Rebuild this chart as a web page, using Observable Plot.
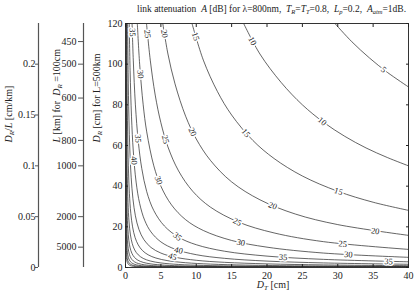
<!DOCTYPE html>
<html><head><meta charset="utf-8">
<script src="https://cdn.jsdelivr.net/npm/d3@7"></script>
<script src="https://cdn.jsdelivr.net/npm/@observablehq/plot@0.6"></script>
<style>
body{margin:0;background:#fff;width:415px;height:296px;overflow:hidden}
#title{font-family:"Liberation Serif",serif;font-size:9.5px;height:18px;line-height:18px;padding-left:137px;white-space:nowrap;color:#222}
#title sub{font-size:6.5px;vertical-align:-2px;line-height:0}
svg{display:block}
svg text{font-family:"Liberation Serif",serif}
</style></head><body>
<div id="title">link attenuation&nbsp; <i>A</i> [dB] for λ=800nm,&nbsp; <i>T</i><sub><i>R</i></sub>=<i>T</i><sub><i>T</i></sub>=0.8,&nbsp; <i>L</i><sub><i>p</i></sub>=0.2,&nbsp; <i>A</i><sub><i>atm</i></sub>=1dB.</div>
<div id="chart"></div>
<script>
// contour levels A [dB] and points (D_T [cm], D_R [cm])
const levels = [5,10,15,20,25,30,35,40,45,50,55,60,65,70,75,80];
const dt05=[29.6,32,34.5,37,40], dr05=[120,111,103,96,88.8];
const dt10=[16.7,19,22,25,28,31,34,37,40], dr10=[120,105,91,80,71.4,64.5,58.8,54.1,50];
const dt15=[9.4,11,13,15,18,21,25,30,35,40], dr15=[120,102,86.5,75,62.5,53.6,45,37.5,32.1,28.1];
const dt20=[5.27,6,7,8.5,10,12,15,19,24,30,40], dr20=[120,105,90.3,74.4,63.2,52.7,42.1,33.3,26.3,21.1,15.8];
const dt25=[2.97,3.5,4.2,5,6,7.5,9.5,12,16,21,28,40], dr25=[120,102,84.8,71.2,59.3,47.5,37.5,29.7,22.3,17,12.7,8.9];
const dt30=[1.67,2,2.5,3,4,5,6.5,8.5,11,15,20,28,40], dr30=[120,100,80,66.7,50,40,30.8,23.5,18.2,13.3,10,7.1,5];
const dt35=[0.93,1.1,1.4,1.8,2.3,3,4,5.5,7.5,10,14,20,28,40], dr35=[120,102,80,62.2,48.7,37.3,28,20.4,14.9,11.2,8,5.6,4,2.8];
const dt40=[0.525,0.65,0.85,1.1,1.5,2,2.7,3.6,5,7,10,14,20,28,40], dr40=[120,96.9,74.1,57.3,42,31.5,23.3,17.5,12.6,9,6.3,4.5,3.15,2.25,1.58];
const dt45=[0.296,0.37,0.48,0.62,0.8,1.05,1.4,1.9,2.6,3.6,5,7,10,14,20,28,40], dr45=[120,95.9,74,57.3,44.4,33.8,25.4,18.7,13.7,9.86,7.1,5.07,3.55,2.54,1.78,1.27,0.89];
const dt50=[0.167,0.22,0.3,0.4,0.55,0.75,1,1.35,1.8,2.4,3.2,4.3,6,8.5,12,17,25,40], dr50=[120,90.9,66.7,50,36.4,26.7,20,14.8,11.1,8.33,6.25,4.65,3.33,2.35,1.67,1.18,0.8,0.5];
const dt55=[0.093,0.13,0.18,0.25,0.35,0.5,0.7,0.95,1.3,1.8,2.5,3.5,5,7.5,11,17,26,40], dr55=[120,86.2,62.2,44.8,32,22.4,16,11.8,8.62,6.22,4.48,3.2,2.24,1.49,1.02,0.66,0.43,0.28];
const dt60=[0.0525,0.075,0.11,0.16,0.23,0.33,0.47,0.65,0.9,1.25,1.75,2.5,3.6,5.5,8.5,13,20,40], dr60=[120,84,57.3,39.4,27.4,19.1,13.4,9.69,7,5.04,3.6,2.52,1.75,1.15,0.74,0.48,0.315,0.158];
const dt65=[0.0296,0.045,0.07,0.1,0.15,0.22,0.32,0.46,0.65,0.92,1.3,1.85,2.7,4,6.5,11,20,40], dr65=[120,78.9,50.7,35.5,23.7,16.1,11.1,7.72,5.46,3.86,2.73,1.92,1.31,0.89,0.55,0.32,0.18,0.089];
const dt70=[0.0167,0.03,0.05,0.08,0.12,0.18,0.27,0.4,0.58,0.85,1.25,1.85,2.8,4.5,8,16,40], dr70=[120,66.7,40,25,16.7,11.1,7.41,5,3.45,2.35,1.6,1.08,0.71,0.44,0.25,0.125,0.05];
const dt75=[0.0093,0.02,0.04,0.07,0.11,0.17,0.26,0.4,0.6,0.9,1.4,2.2,4,8,40], dr75=[120,56,28,16,10.2,6.59,4.31,2.8,1.87,1.24,0.8,0.51,0.28,0.14,0.028];
const dt80=[0.0053,0.015,0.03,0.06,0.1,0.16,0.25,0.4,0.65,1.1,2,4,40], dr80=[120,42,21,10.5,6.3,3.94,2.52,1.58,0.97,0.57,0.315,0.158,0.016];

// inline contour labels
const labelLevel=[5,10,10,15,15,15,20,20,20,20,25,25,25,25,30,30,30,30,35,35,35,35,35,40,40,45];
const labelDT=[36.5,27.8,17.95,9.9,17,30.1,5.5,9.47,20.8,35.3,3.1,5.65,15.8,30.7,2.1,4.66,16.3,31.5,0.97,1.77,7.35,22.3,37.2,1.2,7.5,6.64];
const labelDR=[97.3,71.9,111.4,113.6,66.2,37.4,115,66.7,30.4,17.9,114.8,63,22.5,11.6,95,42.9,12.3,6.35,115.6,63.4,15.2,5.0,3.0,52.6,8.4,5.35];

// axes
const xTicks=[0,5,10,15,20,25,30,35,40];
const yTicks=[0,20,40,60,80,100,120];
const drPerL=[0,0.05,0.1,0.15,0.2];        // D_R/L [cm/km]
const lKm=[450,500,600,800,1000,2000,5000]; // L [km] for D_R=100cm
const L_REF=500, DR_REF=100;

const W=415,H=278,ML=125,MR=7,MT=5,MB=29;
const kx=(W-ML-MR)/40, ky=(H-MT-MB)/120;

const curves={5:[dt05,dr05],10:[dt10,dr10],15:[dt15,dr15],20:[dt20,dr20],25:[dt25,dr25],30:[dt30,dr30],35:[dt35,dr35],40:[dt40,dr40],45:[dt45,dr45],50:[dt50,dr50],55:[dt55,dr55],60:[dt60,dr60],65:[dt65,dr65],70:[dt70,dr70],75:[dt75,dr75],80:[dt80,dr80]};
const rows=[];
levels.forEach(l=>{const [t,r]=curves[l]; t.forEach((v,i)=>rows.push({level:l,dt:v,dr:r[i]}));});
const labels=labelLevel.map((l,i)=>{
  const [t,r]=curves[l]; let j=0;
  while(j<t.length-2 && t[j+1]<labelDT[i]) j++;
  const ang=Math.atan2((r[j]-r[j+1])*ky,(t[j+1]-t[j])*kx)*180/Math.PI;
  return {level:l,dt:labelDT[i],dr:labelDR[i],rot:ang};
});

const drTickPos=drPerL.map(v=>v*L_REF);
const lTickPos=lKm.map(v=>DR_REF/v*L_REF);
const fmtDr=d=>String(drPerL[drTickPos.findIndex(p=>Math.abs(p-d)<1e-6)]);
const fmtL=d=>String(lKm[lTickPos.findIndex(p=>Math.abs(p-d)<1e-6)]);

const chart=Plot.plot({
  width:W,height:H,marginLeft:ML,marginRight:MR,marginTop:MT,marginBottom:MB,
  style:{fontFamily:"Liberation Serif",fontSize:"10px",background:"white",color:"#222"},
  x:{domain:[0,40]},y:{domain:[0,120]},
  marks:[
    Plot.line(rows,{x:"dt",y:"dr",z:"level",curve:"catmull-rom",stroke:"#222",strokeWidth:0.7,clip:true}),
    Plot.text(labels,{x:"dt",y:"dr",text:d=>String(d.level),rotate:"rot",fontSize:8.5,fill:"#222",stroke:"white",strokeWidth:3}),
    Plot.frame({stroke:"#333",strokeWidth:1}),
    Plot.axisX({anchor:"bottom",ticks:xTicks,tickSize:0,tickPadding:4,label:null}),
    Plot.axisX({anchor:"bottom",ticks:xTicks,tickSize:-3,tickFormat:()=>"",label:null}),
    Plot.axisX({anchor:"top",ticks:xTicks,tickSize:-3,tickFormat:()=>"",label:null}),
    Plot.axisY({anchor:"left",ticks:yTicks,tickSize:0,tickPadding:3,label:null}),
    Plot.axisY({anchor:"left",ticks:yTicks,tickSize:-3,tickFormat:()=>"",label:null}),
    Plot.axisY({anchor:"right",ticks:yTicks,tickSize:-3,tickFormat:()=>"",label:null}),
    Plot.ruleX([0],{dx:-87,stroke:"#555",strokeWidth:1.2}),
    Plot.ruleX([0],{dx:-42,stroke:"#555",strokeWidth:1.2}),
    Plot.axisY({anchor:"left",dx:-87,ticks:drTickPos,tickFormat:fmtDr,tickSize:3,tickPadding:0,label:null,stroke:"#555"}),
    Plot.axisY({anchor:"left",dx:-42,ticks:lTickPos,tickFormat:fmtL,tickSize:5,tickPadding:2,label:null,stroke:"#555"}),
    Plot.text(["@YMAIN"],{frameAnchor:"left",dx:-29,dy:-3,rotate:-90,text:d=>d,fontSize:10}),
    Plot.text(["@YL"],{frameAnchor:"left",dx:-69,dy:-3,rotate:-90,text:d=>d,fontSize:10}),
    Plot.text(["@YDRL"],{frameAnchor:"left",dx:-117,dy:-3,rotate:-90,text:d=>d,fontSize:10}),
    Plot.text(["@XLAB"],{frameAnchor:"bottom",dx:6,dy:20,text:d=>d,fontSize:10})
  ]
});
document.getElementById("chart").appendChild(chart);

const rich={
  "@YMAIN":[["D","i"],["R","s"],[" [cm] for L=500km",""]],
  "@YL":[["L","i"],[" [km] for  ",""],["D","i"],["R","s"],[" =100cm",""]],
  "@YDRL":[["D","i"],["R","s"],["/",""],["L","i"],[" [cm/km]",""]],
  "@XLAB":[["D","i"],["T","s"],[" [cm]",""]]
};
d3.select(chart).selectAll("text").each(function(){
  const key=this.textContent; if(!rich[key]) return;
  const el=d3.select(this); el.text(null);
  let shifted=false;
  rich[key].forEach(([t,k])=>{
    const ts=el.append("tspan").text(t);
    if(k.includes("i")||k.includes("s")) ts.attr("font-style","italic");
    if(k==="s"){ts.attr("font-size",7).attr("dy",2.5);shifted=true;}
    else if(shifted){ts.attr("dy",-2.5);shifted=false;}
  });
});
</script></body></html>
